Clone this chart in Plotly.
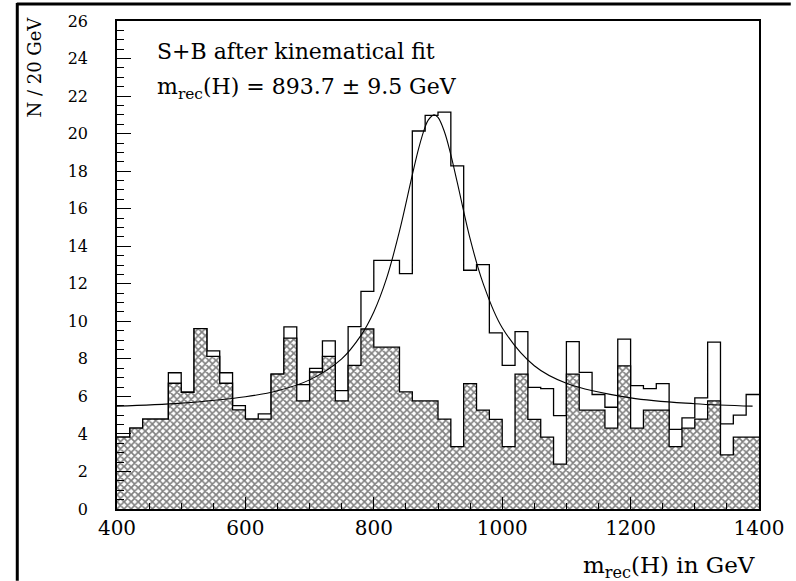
import plotly.graph_objects as go

# ---- data ----
bin_edges = list(range(400, 1401, 20))  # 50 bins of 20 GeV

background = [3.83, 4.31, 4.79, 4.79, 6.70, 6.22, 9.61, 8.13, 6.70, 5.28,
              4.79, 4.79, 7.19, 9.10, 5.76, 7.30, 8.13, 5.76, 7.65, 9.59,
              8.62, 8.62, 6.24, 5.76, 5.76, 4.79, 3.32, 6.68, 5.27, 4.77,
              3.32, 7.19, 4.77, 3.83, 2.39, 7.19, 5.27, 5.27, 4.31, 7.63,
              4.31, 5.27, 5.27, 3.32, 4.31, 4.79, 5.76, 2.88, 3.83, 3.83]

signal_plus_bg = [3.83, 4.31, 4.79, 4.79, 7.26, 6.22, 9.61, 8.43, 7.26, 5.51,
                  4.79, 5.07, 7.19, 9.70, 6.63, 7.49, 8.96, 6.31, 9.72, 11.6,
                  13.25, 13.25, 12.54, 20.14, 20.97, 21.14, 18.28, 12.72, 13.02, 9.38,
                  7.65, 9.45, 6.48, 6.41, 4.98, 8.92, 7.28, 6.10, 5.42, 9.05,
                  6.57, 6.41, 6.68, 4.24, 4.86, 5.92, 8.89, 4.54, 5.00, 6.10]

fit_x = [400, 500, 600, 650, 700, 750, 780, 800, 820, 840, 860, 870, 880, 885,
         893.7, 900, 910, 920, 930, 950, 970, 1000, 1050, 1100, 1200, 1300, 1390]
fit_y = [5.48, 5.64, 5.98, 6.30, 6.88, 8.0, 9.25, 10.5, 12.3, 14.8, 17.8, 19.23, 20.36, 20.73,
         21.0, 20.86, 20.1, 18.87, 17.4, 14.4, 12.05, 9.66, 7.63, 6.70, 5.92, 5.61, 5.48]

x_ticks = [400, 600, 800, 1000, 1200, 1400]
y_ticks = list(range(0, 27, 2))

label_line1 = "S+B after kinematical fit"
label_line2 = "m<sub>rec</sub>(H) = 893.7 ± 9.5 GeV"
x_title = "m<sub>rec</sub>(H) in GeV"
y_title = "N / 20 GeV"

FONT = "DejaVu Serif"

# step arrays (repeat last value to close final bin)
bg_step = background + [background[-1]]
sb_step = signal_plus_bg + [signal_plus_bg[-1]]

fig = go.Figure()

fig.add_trace(go.Scatter(
    x=bin_edges, y=sb_step, mode="lines", line=dict(shape="hv", color="black", width=1.3),
    showlegend=False, hoverinfo="skip"))

fig.add_trace(go.Scatter(
    x=bin_edges, y=bg_step, mode="lines", line=dict(shape="hv", color="black", width=1.3),
    fill="tozeroy", fillcolor="white",
    fillpattern=dict(shape="x", fgcolor="black", bgcolor="white", size=5, solidity=0.55),
    showlegend=False, hoverinfo="skip"))

fig.add_trace(go.Scatter(
    x=fit_x, y=fit_y, mode="lines", line=dict(shape="spline", color="black", width=1.1),
    showlegend=False, hoverinfo="skip"))

W, H = 796, 581
L, R, T, B = 117, 32, 20, 72
pw, ph = W - L - R, H - T - B

def px(xp):
    return (xp - L) / pw

def py(yp):
    return (H - B - yp) / ph

fig.update_layout(
    width=W, height=H,
    margin=dict(l=L, r=R, t=T, b=B),
    paper_bgcolor="white", plot_bgcolor="white",
    font=dict(family=FONT, color="black"),
    xaxis=dict(range=[400, 1400], tickvals=x_ticks, ticks="inside", ticklen=12, tickwidth=1,
               tickcolor="black", showline=True, linecolor="black", linewidth=1.5, mirror=True,
               showgrid=False, zeroline=False, tickfont=dict(family=FONT, size=20),
               ticklabelstandoff=0,
               minor=dict(dtick=50, ticks="inside", ticklen=6, tickcolor="black", showgrid=False)),
    yaxis=dict(range=[0, 26], tickvals=y_ticks, ticks="inside", ticklen=14, tickwidth=1,
               tickcolor="black", showline=True, linecolor="black", linewidth=1.5, mirror=True,
               showgrid=False, zeroline=False, tickfont=dict(family=FONT, size=16),
               ticklabelstandoff=24,
               minor=dict(dtick=0.5, ticks="inside", ticklen=7, tickcolor="black", showgrid=False)),
    annotations=[
        dict(text=label_line1, xref="paper", yref="paper", x=px(155), y=py(51),
             xanchor="left", yanchor="middle", showarrow=False, font=dict(family=FONT, size=22)),
        dict(text=label_line2, xref="paper", yref="paper", x=px(155), y=py(88),
             xanchor="left", yanchor="middle", showarrow=False, font=dict(family=FONT, size=22)),
        dict(text=x_title, xref="paper", yref="paper", x=px(762), y=py(567),
             xanchor="right", yanchor="middle", showarrow=False, font=dict(family=FONT, size=23)),
        dict(text=y_title, xref="paper", yref="paper", x=px(34), y=py(66), textangle=-90,
             xanchor="center", yanchor="middle", showarrow=False, font=dict(family=FONT, size=18)),
    ],
    shapes=[
        dict(type="line", xref="paper", yref="paper", x0=px(16), x1=px(796), y0=py(3), y1=py(3),
             line=dict(color="black", width=3)),
        dict(type="line", xref="paper", yref="paper", x0=px(16.5), x1=px(16.5), y0=py(2), y1=py(581),
             line=dict(color="black", width=3)),
    ],
)

fig.write_html("out.html")
